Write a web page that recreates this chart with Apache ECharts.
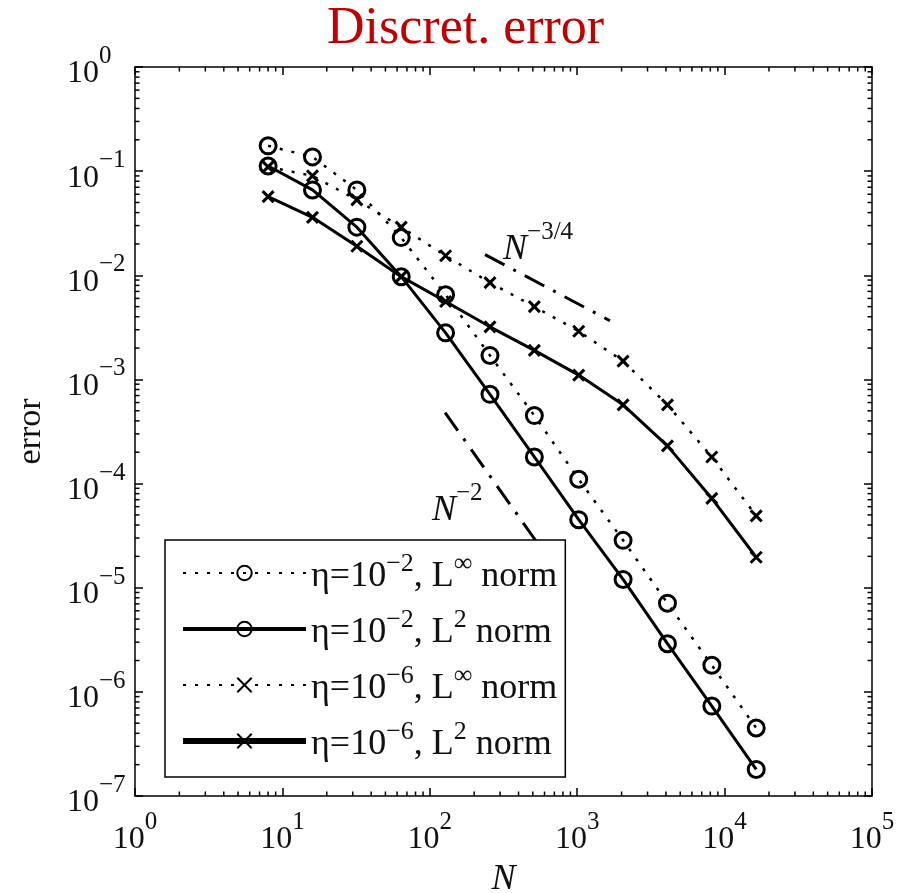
<!DOCTYPE html>
<html>
<head>
<meta charset="utf-8">
<script src="https://cdn.jsdelivr.net/npm/echarts@6/dist/echarts.min.js"></script>
<style>
    html, body { margin: 0; padding: 0; background: #fff; }
    #main { width: 904px; height: 893px; }
</style>
</head>
<body>
<div id="main"></div>
<script>
// grid sizes N
const N = [8, 16, 32, 64, 128, 256, 512, 1024, 2048, 4096, 8192, 16384];
// errors
const errEta2Inf = [0.175, 0.137, 0.066, 0.023, 0.0065, 0.0017, 4.5e-4, 1.1e-4, 2.85e-5, 7.1e-6, 1.8e-6, 4.5e-7];
const errEta2L2 = [0.112, 0.066, 0.029, 0.0097, 0.0028, 7.2e-4, 1.8e-4, 4.5e-5, 1.2e-5, 2.9e-6, 7.3e-7, 1.8e-7];
const errEta6Inf = [0.11, 0.09, 0.053, 0.029, 0.0154, 0.0085, 0.005, 0.0029, 0.0015, 5.7e-4, 1.8e-4, 4.9e-5];
const errEta6L2 = [0.057, 0.036, 0.019, 0.0097, 0.0056, 0.0032, 0.0019, 0.0011, 5.7e-4, 2.3e-4, 7.2e-5, 1.96e-5];
// slope guides
const guide34 = [[237, 0.0158], [1668, 0.00366]];
const guide2 = [[127, 4.8e-4], [634, 1.93e-5]];
// annotation anchors [N, error, text]
const notes = [[314, 0.0201, '{n|N}{s|−3/4}'], [103.5, 6.3e-5, '{n|N}{s|−2}']];

const seriesNames = ['η=10^-2, L^∞ norm', 'η=10^-2, L^2 norm', 'η=10^-6, L^∞ norm', 'η=10^-6, L^2 norm'];
const legendLabels = [
    '{b|η=10}{s|−2}{b|, L}{s|∞}{b| norm}',
    '{b|η=10}{s|−2}{b|, L}{s|2}{b| norm}',
    '{b|η=10}{s|−6}{b|, L}{s|∞}{b| norm}',
    '{b|η=10}{s|−6}{b|, L}{s|2}{b| norm}'
];

const serif = 'Liberation Serif';
const cross = 'path://M0,0L10,10M10,0L0,10';
const dotted = [3, 9];
const dashDot = [22, 10, 3, 10];

const chart = echarts.init(document.getElementById('main'), null, {renderer: 'canvas'});

function powLabel(v) {
    const e = Math.round(Math.log10(v));
    return '{b|10}{s|' + (e < 0 ? '−' + (-e) : e) + '}';
}

const tickRich = {
    b: {fontFamily: serif, fontSize: 32, lineHeight: 46, verticalAlign: 'bottom', color: '#111'},
    s: {fontFamily: serif, fontSize: 25, lineHeight: 18, verticalAlign: 'top', color: '#111'}
};

const axisBase = {
    type: 'log',
    logBase: 10,
    axisLine: {show: true, lineStyle: {color: '#000', width: 1.5}},
    axisTick: {show: true, inside: true, length: 8, lineStyle: {color: '#000', width: 1.5}},
    splitLine: {show: false},
    minorTick: {show: false}
};

function mkSeries(name, arr, symbol, size, type, width) {
    return {
        name: name,
        type: 'line',
        data: N.map((n, i) => [n, arr[i]]),
        symbol: symbol,
        symbolSize: size,
        showSymbol: true,
        lineStyle: {color: '#000', width: width, type: type},
        itemStyle: {color: 'transparent', borderColor: '#000', borderWidth: 3},
        emphasis: {disabled: true},
        z: 3
    };
}

function mkGuide(pts) {
    return {
        type: 'line',
        data: pts,
        symbol: 'none',
        silent: true,
        lineStyle: {color: '#000', width: 3, type: dashDot},
        z: 2
    };
}

chart.setOption({
    animation: false,
    backgroundColor: '#fff',
    title: {
        text: 'Discret. error',
        left: 327,
        top: 3,
        padding: 0,
        textStyle: {fontFamily: serif, fontSize: 52, fontWeight: 'normal', color: '#c00000'}
    },
    grid: {left: 135, right: 32, top: 67, bottom: 97, containLabel: false, outerBoundsMode: 'none'},
    legend: {
        orient: 'vertical',
        left: 165,
        top: 540,
        padding: [11, 8, 14, 15],
        itemWidth: 123,
        itemHeight: 18,
        itemGap: 12,
        backgroundColor: '#fff',
        borderColor: '#000',
        borderWidth: 1.5,
        selectedMode: false,
        data: [
            {name: seriesNames[0]},
            {name: seriesNames[1], lineStyle: {width: 4}},
            {name: seriesNames[2]},
            {name: seriesNames[3], lineStyle: {width: 6}}
        ],
        formatter: name => legendLabels[seriesNames.indexOf(name)],
        textStyle: {
            rich: {
                b: {fontFamily: serif, fontSize: 36, lineHeight: 44, verticalAlign: 'bottom', color: '#111'},
                s: {fontFamily: serif, fontSize: 26, lineHeight: 14, verticalAlign: 'top', color: '#111'}
            }
        }
    },
    xAxis: [
        Object.assign({}, axisBase, {
            min: 1, max: 1e5, splitNumber: 5, position: 'bottom',
            name: 'N', nameLocation: 'middle', nameGap: 66,
            nameTextStyle: {fontFamily: serif, fontSize: 36, fontStyle: 'italic', color: '#111'},
            axisLabel: {formatter: powLabel, margin: 14, rich: tickRich}
        }),
        Object.assign({}, axisBase, {
            min: 1, max: 1e5, splitNumber: 5, position: 'top', axisLabel: {show: false}
        })
    ],
    yAxis: [
        Object.assign({}, axisBase, {
            min: 1e-7, max: 1, splitNumber: 7, position: 'left',
            name: 'error', nameLocation: 'middle', nameGap: 87,
            nameTextStyle: {fontFamily: serif, fontSize: 34, color: '#111'},
            axisLabel: {formatter: powLabel, margin: 68, align: 'left', rich: tickRich}
        }),
        Object.assign({}, axisBase, {
            min: 1e-7, max: 1, splitNumber: 7, position: 'right', axisLabel: {show: false}
        })
    ],
    series: [
        mkSeries(seriesNames[0], errEta2Inf, 'circle', 16, dotted, 2.5),
        mkSeries(seriesNames[1], errEta2L2, 'circle', 16, 'solid', 3),
        mkSeries(seriesNames[2], errEta6Inf, cross, 11, dotted, 2.5),
        mkSeries(seriesNames[3], errEta6L2, cross, 11, 'solid', 3),
        mkGuide(guide34),
        mkGuide(guide2)
    ]
});

// minor ticks (2..9 per decade) on all four sides, and the slope notes
function extras() {
    const g = [];
    const px = v => chart.convertToPixel({xAxisIndex: 0}, v);
    const py = v => chart.convertToPixel({yAxisIndex: 0}, v);
    const left = px(1), right = px(1e5), top = py(1), bottom = py(1e-7);
    const len = 4.5;
    const stroke = {stroke: '#000', lineWidth: 1.5};
    for (let k = 0; k < 5; k++) {
        for (let m = 2; m <= 9; m++) {
            const x = px(m * Math.pow(10, k));
            g.push({type: 'line', shape: {x1: x, y1: bottom, x2: x, y2: bottom - len}, style: stroke, silent: true});
            g.push({type: 'line', shape: {x1: x, y1: top, x2: x, y2: top + len}, style: stroke, silent: true});
        }
    }
    for (let k = -7; k < 0; k++) {
        for (let m = 2; m <= 9; m++) {
            const y = py(m * Math.pow(10, k));
            g.push({type: 'line', shape: {x1: left, y1: y, x2: left + len, y2: y}, style: stroke, silent: true});
            g.push({type: 'line', shape: {x1: right, y1: y, x2: right - len, y2: y}, style: stroke, silent: true});
        }
    }
    notes.forEach(n => {
        const p = chart.convertToPixel({xAxisIndex: 0, yAxisIndex: 0}, [n[0], n[1]]);
        g.push({
            type: 'text', x: p[0], y: p[1], silent: true, z: 5,
            style: {
                text: n[2], align: 'left', verticalAlign: 'middle',
                rich: {
                    n: {fontFamily: serif, fontSize: 36, fontStyle: 'italic', lineHeight: 48, verticalAlign: 'bottom', fill: '#111'},
                    s: {fontFamily: serif, fontSize: 25, lineHeight: 18, verticalAlign: 'top', fill: '#111'}
                }
            }
        });
    });
    chart.setOption({graphic: g});
}
extras();
</script>
</body>
</html>
